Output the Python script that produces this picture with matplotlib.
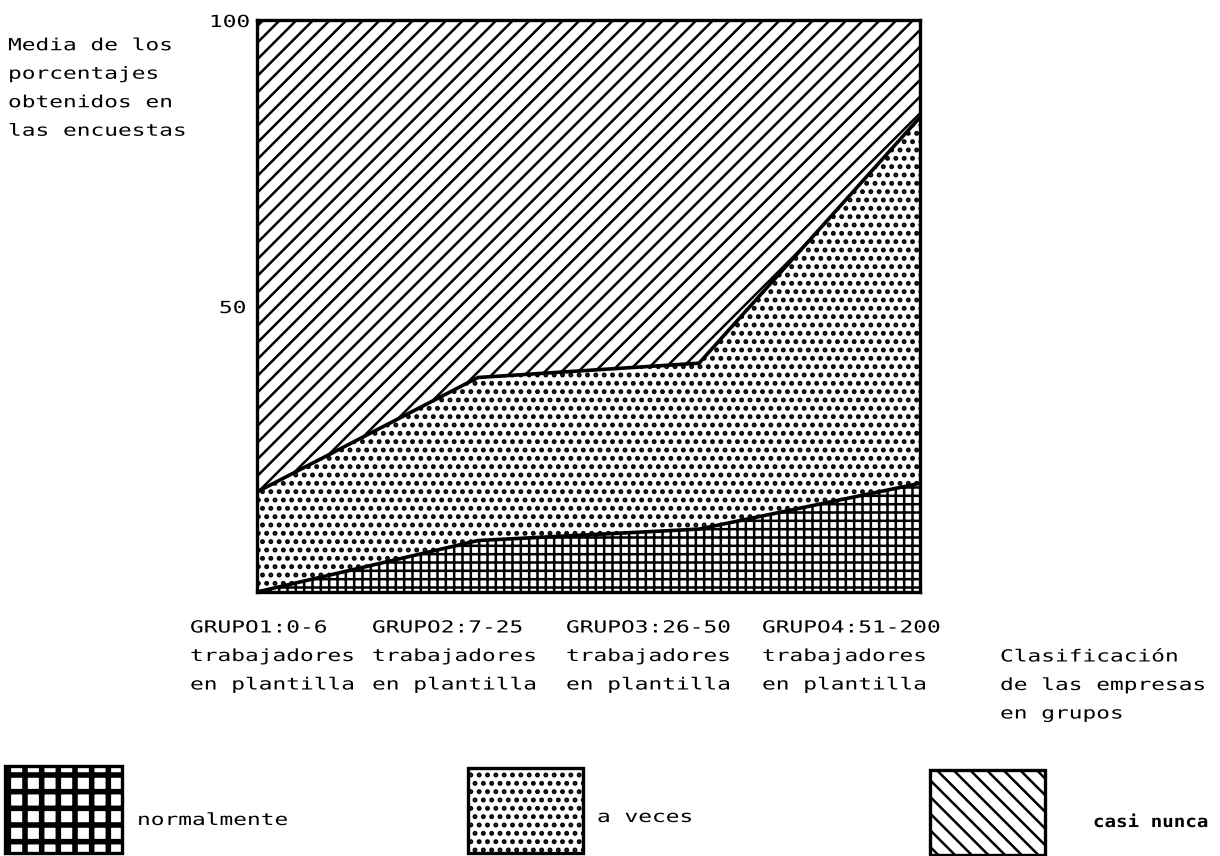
import numpy as np
import matplotlib
matplotlib.use("Agg")
import matplotlib.pyplot as plt
from matplotlib.patches import Rectangle
from matplotlib.patheffects import AbstractPathEffect
from matplotlib.transforms import Affine2D

# ---- data ----
grupos = ["GRUPO1:0-6\ntrabajadores\nen plantilla",
          "GRUPO2:7-25\ntrabajadores\nen plantilla",
          "GRUPO3:26-50\ntrabajadores\nen plantilla",
          "GRUPO4:51-200\ntrabajadores\nen plantilla"]
normalmente = [0.0, 9.0, 11.0, 19.0]
a_veces = [17.5, 28.5, 29.0, 64.0]
casi_nunca = [82.5, 62.5, 60.0, 17.0]
ytick_vals = [50, 100]
ytick_labels = ["50", "100"]
series_names = ["normalmente", "a veces", "casi nunca"]

FONT = "DejaVu Sans Mono"
FS = 12
LS = 1.75
plt.rcParams['font.family'] = [FONT]
plt.rcParams['hatch.linewidth'] = 1.8
plt.rcParams['hatch.color'] = 'black'


class Spaced(AbstractPathEffect):
    """Widen typewriter text horizontally (from its left origin)."""
    def __init__(self, sx=1.37):
        super().__init__()
        self.sx = sx

    def draw_path(self, renderer, gc, tpath, affine, rgbFace=None):
        renderer.draw_path(gc, tpath, Affine2D().scale(self.sx, 1.0) + affine, rgbFace)


PE = [Spaced(1.37)]

W, H = 1220, 856
fig = plt.figure(figsize=(W / 100, H / 100), dpi=100)
fig.patch.set_facecolor('white')


def fx(px):
    return px / W


def fy(py):
    return 1 - py / H


def ftext(px, py, s, pe=None, **kw):
    t = fig.text(fx(px), fy(py), s, fontsize=FS, family=FONT, ha='left', **kw)
    t.set_path_effects(pe or PE)
    return t


def hatch_lw(artist, lw):
    if hasattr(artist, 'set_hatch_linewidth'):
        try:
            artist.set_hatch_linewidth(lw)
            return True
        except Exception:
            return False
    return False


ax = fig.add_axes([fx(257), fy(592), fx(920) - fx(257), fy(20) - fy(592)])

x = np.arange(len(grupos))
n = np.array(normalmente)
av = n + np.array(a_veces)
cn = av + np.array(casi_nunca)

c1 = ax.fill_between(x, 0, n, facecolor='white', edgecolor='black', hatch='++', linewidth=0)
c2 = ax.fill_between(x, n, av, facecolor='white', edgecolor='black', hatch='..', linewidth=0)
c3 = ax.fill_between(x, av, cn, facecolor='white', edgecolor='black', hatch='//', linewidth=0)
hatch_lw(c2, 2.3)
ax.plot(x, n, color='black', lw=2.6, solid_capstyle='round')
ax.plot(x, av, color='black', lw=2.6, solid_capstyle='round')

ax.set_xlim(0, len(grupos) - 1)
ax.set_ylim(0, 100)
ax.set_xticks([])
ax.set_yticks(ytick_vals)
ax.set_yticklabels(ytick_labels, fontsize=FS, family=FONT)
ax.tick_params(axis='y', length=0, pad=13)
for lab in ax.get_yticklabels():
    lab.set_path_effects(PE)
for s in ax.spines.values():
    s.set_linewidth(2.4)
    s.set_color('black')

# axis titles
ftext(8, 88, "Media de los\nporcentajes\nobtenidos en\nlas encuestas",
      va='center', linespacing=LS)
ftext(1000, 685, "Clasificación\nde las empresas\nen grupos",
      va='center', linespacing=LS)

# group labels
label_left = [190, 372, 566, 762]
for lx, g in zip(label_left, grupos):
    ftext(lx, 656, g, va='center', linespacing=LS)

# legend swatches
boxes = [(5, 766, 117, 87, '+'), (468, 768, 115, 85, '..'), (930, 770, 115, 85, '\\\\')]
lab_pos = [(137, 820, 'normal', PE), (597, 817, 'normal', PE),
           (1093, 822, 'bold', [Spaced(1.15)])]
for i, ((bx, by, bw, bh, ht), (tx, ty, wt, pe), name) in enumerate(zip(boxes, lab_pos, series_names)):
    r = Rectangle((fx(bx), fy(by + bh)), bw / W, bh / H,
                  transform=fig.transFigure, facecolor='white',
                  edgecolor='black', hatch=ht, linewidth=2.4)
    if i == 0:
        if not hatch_lw(r, 4.0):
            r.set_hatch('+++')
    elif i == 1:
        hatch_lw(r, 2.3)
    fig.add_artist(r)
    ftext(tx, ty, name, pe=pe, va='center', fontweight=wt)

fig.savefig("out.png", dpi=100, facecolor='white')
